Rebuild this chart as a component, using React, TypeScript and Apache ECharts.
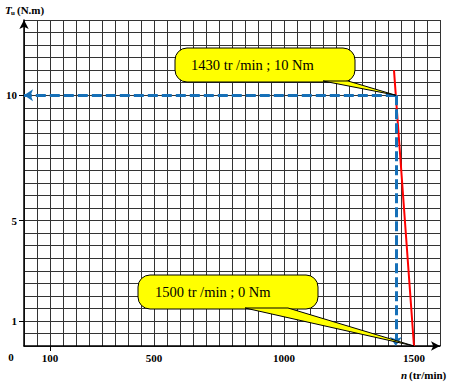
import React, { useEffect, useRef } from 'react';
import * as echarts from 'echarts';

const speedLabels = [100, 500, 1000, 1500];
const speedTickMarks = [100];
const torqueLabels = [1, 5, 10];
const redSpeed = [1423, 1430, 1500];
const redTorque = [11, 10, 0];
const ratedPoint = [1430, 10];
const noLoadPoint = [1500, 0];
const callout1Text = '1430 tr /min ; 10 Nm';
const callout2Text = '1500 tr /min ; 0 Nm';

const SERIF = '"Liberation Serif", "Times New Roman", serif';

export default function App() {
  const ref = useRef<HTMLDivElement>(null);
  useEffect(() => {
    if (!ref.current) return;
    const chart = echarts.init(ref.current, undefined, { renderer: 'svg' });
    const axisLabelStyle = {
      fontFamily: SERIF,
      fontWeight: 'bold' as const,
      fontSize: 11,
      color: '#000',
    };
    const gridLine = { show: true, lineStyle: { color: '#333', width: 1 } };
    const mainLine = {
      show: true,
      onZero: false,
      symbol: ['none', 'arrow'],
      symbolSize: [7, 9],
      lineStyle: { color: '#000', width: 1.5 },
    };
    const option: any = {
      animation: false,
      backgroundColor: '#fff',
      grid: { left: 24, right: 14, top: 20, bottom: 38, outerBoundsMode: 'none' },
      xAxis: [
        {
          type: 'value',
          min: 0,
          max: 1600,
          interval: 50,
          position: 'bottom',
          axisLine: { show: false },
          axisTick: { show: false },
          axisLabel: { show: false },
          splitLine: gridLine,
        },
        {
          type: 'value',
          min: 0,
          max: 1600,
          position: 'bottom',
          axisLine: mainLine,
          axisTick: { show: true, customValues: speedTickMarks, length: 5, lineStyle: { color: '#000' } },
          axisLabel: { ...axisLabelStyle, customValues: speedLabels, margin: 6, formatter: (v: number) => String(v) },
          splitLine: { show: false },
        },
      ],
      yAxis: [
        {
          type: 'value',
          min: 0,
          max: 13,
          interval: 0.5,
          position: 'left',
          axisLine: { show: false },
          axisTick: { show: false },
          axisLabel: { show: false },
          splitLine: gridLine,
        },
        {
          type: 'value',
          min: 0,
          max: 13,
          position: 'left',
          axisLine: mainLine,
          axisTick: { show: true, customValues: torqueLabels, length: 5, lineStyle: { color: '#000' } },
          axisLabel: { ...axisLabelStyle, customValues: torqueLabels, margin: 7 },
          splitLine: { show: false },
        },
      ],
      series: [
        {
          type: 'line',
          data: redSpeed.map((n, i) => [n, redTorque[i]]),
          symbol: 'none',
          lineStyle: { color: '#FF0000', width: 2 },
          z: 3,
        },
        {
          type: 'line',
          data: [],
          z: 4,
          markLine: {
            silent: true,
            symbol: ['none', 'arrow'],
            symbolSize: 9,
            label: { show: false },
            lineStyle: { color: '#1670B8', width: 3, type: [10, 4] },
            itemStyle: { color: '#1670B8' },
            data: [
              [{ coord: ratedPoint }, { coord: [0, ratedPoint[1]] }],
              [{ coord: ratedPoint }, { coord: [ratedPoint[0], 0] }],
            ],
          },
        },
      ],
    };
    chart.setOption(option);

    const tip1 = chart.convertToPixel({ gridIndex: 0 }, ratedPoint) as number[];
    const tip2 = chart.convertToPixel({ gridIndex: 0 }, noLoadPoint) as number[];

    const callout = (bx: number, by: number, bw: number, bh: number, b1: number, b2: number, tip: number[], text: string, tx: number) => [
      {
        type: 'rect',
        shape: { x: bx, y: by, width: bw, height: bh, r: 12 },
        style: { fill: '#FFFF00', stroke: '#000', lineWidth: 1 },
        z: 100,
      },
      {
        type: 'polygon',
        shape: { points: [[b1, by + bh - 1], [b2, by + bh - 1], tip] },
        style: { fill: '#FFFF00', stroke: '#000', lineWidth: 1 },
        z: 101,
      },
      {
        type: 'text',
        x: tx,
        y: by + bh / 2,
        style: {
          text,
          fontFamily: SERIF,
          fontSize: 14.5,
          fill: '#000',
          verticalAlign: 'middle',
          align: 'left',
        },
        z: 102,
      },
    ];

    const boldSerif = { fontFamily: SERIF, fontWeight: 'bold', fill: '#000', verticalAlign: 'middle' };

    chart.setOption({
      graphic: [
        ...callout(175, 48, 180, 34, 323, 348, tip1, callout1Text, 191),
        ...callout(138, 275, 180, 34, 245, 288, tip2, callout2Text, 155),
        { type: 'text', x: 11, y: 357, style: { ...boldSerif, text: '0', fontSize: 11, align: 'center' } },
        { type: 'text', x: 5, y: 10, style: { ...boldSerif, text: 'T', fontSize: 11, fontStyle: 'italic' } },
        { type: 'text', x: 11, y: 13, style: { ...boldSerif, text: 'u', fontSize: 7 } },
        { type: 'text', x: 17, y: 10, style: { ...boldSerif, text: '(N.m)', fontSize: 11 } },
        { type: 'text', x: 401, y: 375, style: { ...boldSerif, text: 'n', fontSize: 11, fontStyle: 'italic' } },
        { type: 'text', x: 409, y: 375, style: { ...boldSerif, text: '(tr/min)', fontSize: 11 } },
      ],
    });

    return () => chart.dispose();
  }, []);
  return (
    <div
      ref={ref}
      style={{ position: 'absolute', left: 0, top: 0, width: 454, height: 384 }}
    />
  );
}
